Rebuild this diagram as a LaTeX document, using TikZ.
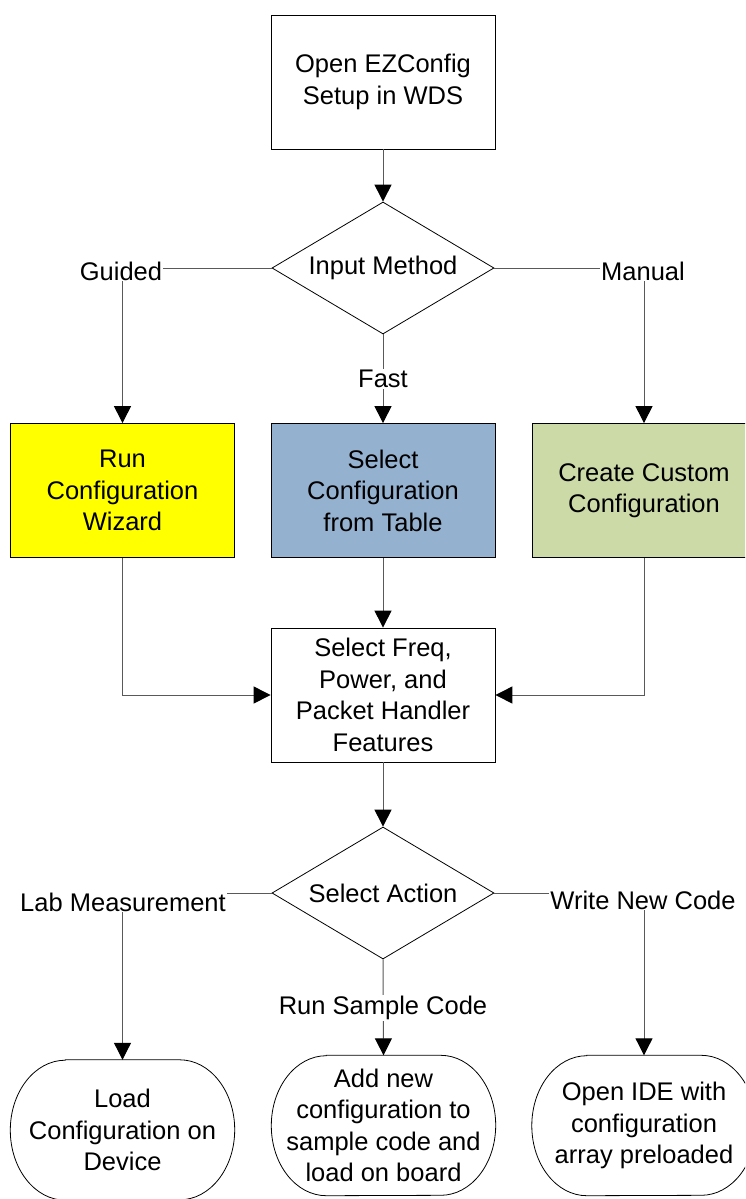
\documentclass[tikz,border=0pt]{standalone}
\usepackage{fontspec}
\setmainfont{Liberation Sans}
\usetikzlibrary{shapes.geometric,arrows.meta}
\definecolor{cyellow}{RGB}{255,255,0}
\definecolor{cblue}{RGB}{149,177,208}
\definecolor{cgreen}{RGB}{204,218,168}
\begin{document}
\begin{tikzpicture}[x=1pt,y=-1pt,
  every node/.style={font=\fontsize{25.5}{31.5}\selectfont, align=center},
  procbox/.style={draw=black, line width=0.8pt, minimum width=224pt, minimum height=134pt, inner sep=0pt},
  decis/.style={diamond, draw=black, line width=0.8pt, minimum width=222pt, minimum height=132pt, aspect=1.68, inner sep=0pt},
  lbl/.style={fill=white, inner sep=1pt},
  conn/.style={draw=black!65, line width=1pt, -{Triangle[length=17pt,width=17pt,color=black]}},
  termnode/.style={minimum width=224pt, minimum height=140pt, inner sep=0pt},
  termline/.style={draw=black, line width=0.8pt}
]
\clip (0,0) rectangle (745,1199);
\fill[white] (0,0) rectangle (745,1199);

\node[procbox] (open) at (383,82) {Open EZConfig\\Setup in WDS};
\node[decis] (im) at (383,268) {Input Method};
\node[procbox, fill=cyellow] (wiz) at (122.5,490.5) {Run\\Configuration\\Wizard};
\node[procbox, fill=cblue] (tab) at (383,490.5) {Select\\Configuration\\from Table};
\node[procbox, fill=cgreen] (cust) at (644,490.5) {Create Custom\\Configuration};
\node[procbox] (feat) at (383,695) {Select Freq,\\Power, and\\Packet Handler\\Features};
\node[decis] (sa) at (383,893) {Select Action};
\node[termnode] (load) at (122.5,1130) {Load\\Configuration on\\Device};
\node[termnode] (add) at (383.5,1125.5) {Add new\\configuration to\\sample code and\\load on board};
\node[termnode] (ide) at (644,1125.5) {Open IDE with\\configuration\\array preloaded};

\foreach \n in {load,add,ide}{
  \draw[termline] ([xshift=55pt]\n.north west) -- ([xshift=-55pt]\n.north east)
    arc[start angle=90,end angle=-90,x radius=55pt,y radius=70pt]
    -- ([xshift=55pt]\n.south west)
    arc[start angle=270,end angle=90,x radius=55pt,y radius=70pt] -- cycle;
}

\draw[conn] (open.south) -- (im.north);
\draw[conn] (im.west) -| (wiz.north);
\draw[conn] (im.east) -| (cust.north);
\draw[conn] (im.south) -- (tab.north);
\draw[conn] (tab.south) -- (feat.north);
\draw[conn] (wiz.south) |- (feat.west);
\draw[conn] (cust.south) |- (feat.east);
\draw[conn] (feat.south) -- (sa.north);
\draw[conn] (sa.west) -| (load.north);
\draw[conn] (sa.east) -| (ide.north);
\draw[conn] (sa.south) -- (add.north);

\node[lbl] (lguided) at (121,271) {Guided};
\node[lbl] (lmanual) at (643,271) {Manual};
\node[lbl] (lfast) at (383,379) {Fast};
\node[lbl] (llab) at (123,902) {Lab Measurement};
\node[lbl] (lwrite) at (643,900) {Write New Code};
\node[lbl] (lrun) at (383,1008) {Run Sample Code};
\end{tikzpicture}
\end{document}
